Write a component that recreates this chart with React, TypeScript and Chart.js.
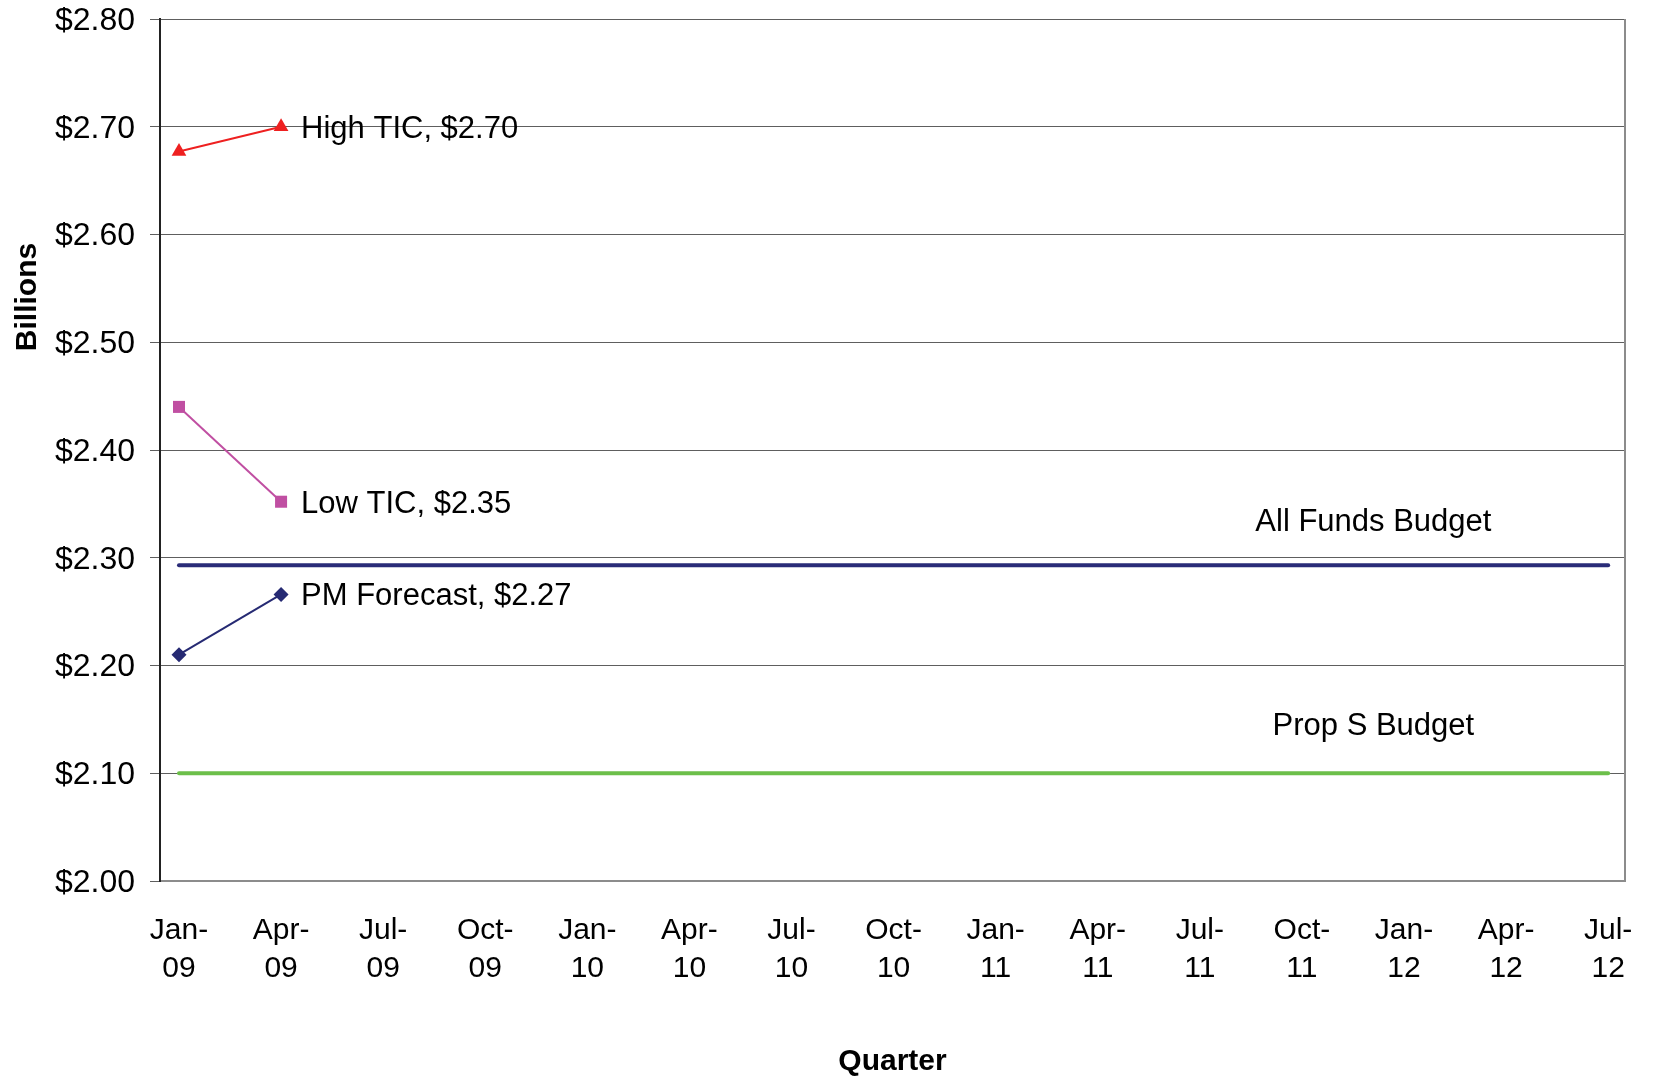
import React, { useEffect, useRef } from 'react';
import { Chart, registerables } from 'chart.js';

Chart.register(...registerables);

const quarterLabels = ['Jan-09', 'Apr-09', 'Jul-09', 'Oct-09', 'Jan-10', 'Apr-10', 'Jul-10', 'Oct-10', 'Jan-11', 'Apr-11', 'Jul-11', 'Oct-11', 'Jan-12', 'Apr-12', 'Jul-12'];
const highTIC = [2.677, 2.70];
const lowTIC = [2.44, 2.352];
const pmForecast = [2.21, 2.266];
const allFundsBudget = [2.293, 2.293, 2.293, 2.293, 2.293, 2.293, 2.293, 2.293, 2.293, 2.293, 2.293, 2.293, 2.293, 2.293, 2.293];
const propSBudget = [2.10, 2.10, 2.10, 2.10, 2.10, 2.10, 2.10, 2.10, 2.10, 2.10, 2.10, 2.10, 2.10, 2.10, 2.10];
const yTicks = [2.0, 2.1, 2.2, 2.3, 2.4, 2.5, 2.6, 2.7, 2.8];
const seriesEndLabels = ['High TIC, $2.70', 'Low TIC, $2.35', 'PM Forecast, $2.27'];
const budgetLabels = ['All Funds Budget', 'Prop S Budget'];

const FONT = '"Liberation Sans", Arial, sans-serif';

const toPoints = (arr: number[]) => arr.map((y, i) => ({ x: i, y }));

const annotationPlugin = {
  id: 'annotations',
  afterDatasetsDraw(chart: any) {
    const ctx = chart.ctx;
    const { chartArea } = chart;
    ctx.save();
    // right border
    ctx.strokeStyle = '#8c8c8c';
    ctx.lineWidth = 2;
    ctx.beginPath();
    ctx.moveTo(chartArea.right, chartArea.top);
    ctx.lineTo(chartArea.right, chartArea.bottom);
    ctx.stroke();

    ctx.fillStyle = '#000';
    ctx.font = `31px ${FONT}`;
    ctx.textBaseline = 'middle';
    // series end labels
    [0, 1, 2].forEach((di) => {
      const meta = chart.getDatasetMeta(di);
      const pt = meta.data[meta.data.length - 1];
      ctx.textAlign = 'left';
      ctx.fillText(seriesEndLabels[di], pt.x + 20, pt.y + 2.5);
    });
    // budget labels
    const xs = chart.scales.x;
    const offsets = [43, 47];
    [3, 4].forEach((di, k) => {
      const meta = chart.getDatasetMeta(di);
      const pt = meta.data[0];
      ctx.textAlign = 'center';
      ctx.fillText(budgetLabels[k], xs.getPixelForValue(11.7), pt.y - offsets[k]);
    });

    // axis titles
    ctx.font = `bold 30px ${FONT}`;
    ctx.textAlign = 'center';
    ctx.fillText('Quarter', (chartArea.left + chartArea.right) / 2, 1062);
    ctx.translate(28, 297);
    ctx.rotate(-Math.PI / 2);
    ctx.fillText('Billions', 0, 0);
    ctx.restore();
  },
};

export default function App() {
  const ref = useRef<HTMLCanvasElement>(null);
  useEffect(() => {
    document.body.style.margin = '0';
    const canvas = ref.current!;
    const chart = new Chart(canvas, {
      type: 'line',
      data: {
        datasets: [
          {
            label: 'High TIC',
            data: toPoints(highTIC),
            borderColor: '#ee2020',
            backgroundColor: '#ee2020',
            borderWidth: 2,
            pointStyle: 'triangle',
            pointRadius: 8.5,
            pointBorderWidth: 0,
          },
          {
            label: 'Low TIC',
            data: toPoints(lowTIC),
            borderColor: '#c04fa2',
            backgroundColor: '#c04fa2',
            borderWidth: 2,
            pointStyle: 'rect',
            pointRadius: 8.5,
            pointBorderWidth: 0,
          },
          {
            label: 'PM Forecast',
            data: toPoints(pmForecast),
            borderColor: '#262a73',
            backgroundColor: '#262a73',
            borderWidth: 2,
            pointStyle: 'rectRot',
            pointRadius: 7.5,
            pointBorderWidth: 0,
          },
          {
            label: 'All Funds Budget',
            data: toPoints(allFundsBudget),
            borderColor: '#2a2c78',
            borderWidth: 4,
            pointRadius: 0,
            borderCapStyle: 'round',
          },
          {
            label: 'Prop S Budget',
            data: toPoints(propSBudget),
            borderColor: '#6cbf4a',
            borderWidth: 4,
            pointRadius: 0,
            borderCapStyle: 'round',
          },
        ],
      },
      options: {
        animation: false,
        responsive: false,
        devicePixelRatio: 1,
        layout: { padding: { top: 19, right: 29, left: 0, bottom: 0 } },
        plugins: { legend: { display: false }, tooltip: { enabled: false } },
        scales: {
          x: {
            type: 'linear',
            min: -0.186,
            max: 14.165,
            afterBuildTicks: (scale: any) => {
              scale.ticks = quarterLabels.map((_, i) => ({ value: i }));
            },
            afterFit: (scale: any) => {
              scale.height = 198;
              scale.paddingLeft = 0;
              scale.paddingRight = 0;
            },
            ticks: {
              autoSkip: false,
              maxRotation: 0,
              padding: 31,
              color: '#000',
              font: { family: FONT, size: 30, lineHeight: 1.27 },
              callback: (v: any) => {
                const lab = quarterLabels[Math.round(v)] || '';
                const [m, y] = lab.split('-');
                return [m + '-', y];
              },
            },
            grid: { display: false, drawTicks: false },
            border: { display: true, color: '#8c8c8c', width: 2 },
          },
          y: {
            type: 'linear',
            min: 2.0,
            max: 2.8,
            afterBuildTicks: (scale: any) => {
              scale.ticks = yTicks.map((v) => ({ value: v }));
            },
            afterFit: (scale: any) => {
              scale.width = 160;
              scale.paddingTop = 0;
              scale.paddingBottom = 0;
            },
            ticks: {
              padding: 15,
              labelOffset: 2,
              color: '#000',
              font: { family: FONT, size: 32 },
              callback: (v: any) => '$' + Number(v).toFixed(2),
            },
            grid: { color: '#5e5e5e', lineWidth: 1, tickLength: 10, drawTicks: true },
            border: { display: true, color: '#222', width: 2 },
          },
        },
      },
      plugins: [annotationPlugin],
    } as any);
    return () => chart.destroy();
  }, []);
  return <canvas ref={ref} width={1654} height={1079} style={{ display: 'block' }} />;
}
